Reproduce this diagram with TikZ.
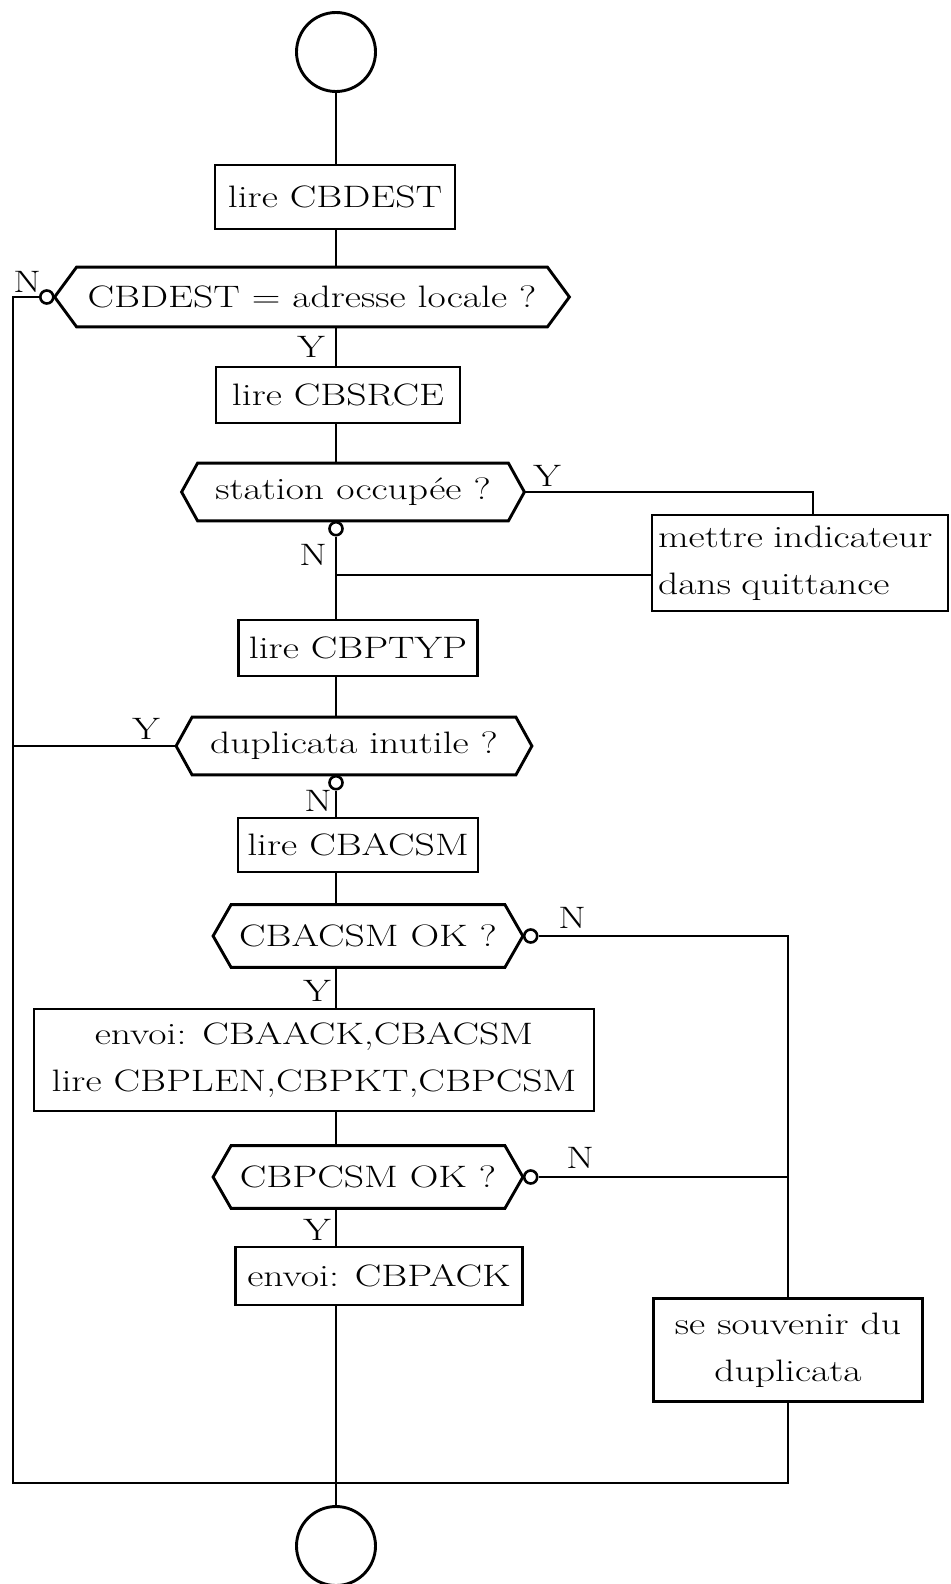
\documentclass[tikz,border=0pt]{standalone}
\usepackage{fontspec}
\setmainfont{Latin Modern Roman}[FakeStretch=1.28]
\usetikzlibrary{calc}

% hexagonal decision frame around a rectangular text node
\newcommand\hexframe[2]{%
  \draw[flow] (#1.north west) -- (#1.north east) -- ([xshift=#2]#1.east)
    -- (#1.south east) -- (#1.south west) -- ([xshift=-#2]#1.west) -- cycle;}

\tikzset{
  flow/.style={line width=1.45pt, line join=miter},
  txt/.style={font=\fontsize{15.5}{23.5}\selectfont, inner sep=0pt},
  stepbox/.style={flow, draw, rectangle, txt, align=center},
  decision/.style={rectangle, txt},
  terminal/.style={flow, draw, circle, minimum size=39.5pt, inner sep=0pt},
  ncirc/.style={draw, circle, fill=white, minimum size=6.5pt, inner sep=0pt, line width=1.3pt},
  lbl/.style={txt}
}

\begin{document}
\begin{tikzpicture}[x=0.5pt, y=-0.5pt]
\useasboundingbox (0,0) rectangle (950,1584);

% main column
\node[terminal] (start) at (336,52) {};
\node[stepbox, minimum width=120pt, minimum height=32pt] (b1) at (335,197) {lire CBDEST};

\node[decision, minimum width=235pt, minimum height=29.5pt] (d1) at (312,297) {CBDEST = adresse locale ?};
\hexframe{d1}{11pt}
\node[ncirc, anchor=east] (d1n) at ([xshift=-11pt]d1.west) {};
\node[lbl] (ln1) at (27,282) {N};
\node[lbl] (ly1) at (311,347) {Y};

\node[stepbox, minimum width=122pt, minimum height=28pt] (b2) at (338,395) {lire CBSRCE};

\node[decision, minimum width=155pt, minimum height=28.5pt] (d2) at (353,492) {station occupée ?};
\hexframe{d2}{8pt}
\coordinate (d2e) at ([xshift=8pt]d2.east);
\node[ncirc, anchor=north] (d2n) at (d2.south -| start) {};
\node[lbl] (ly2) at (547,476) {Y};
\node[lbl] (ln2) at (313,555) {N};

\node[stepbox, align=left, minimum width=148pt, minimum height=48pt, text width=142pt] (b3) at (800,563) {mettre indicateur\\dans quittance};

\node[stepbox, minimum width=119.5pt, minimum height=28pt] (b4) at (358,648) {lire CBPTYP};

\node[decision, minimum width=161.5pt, minimum height=28.5pt] (d3) at (354,746) {duplicata inutile ?};
\hexframe{d3}{8pt}
\coordinate (d3w) at ([xshift=-8pt]d3.west);
\node[ncirc, anchor=north] (d3n) at (d3.south -| start) {};
\node[lbl] (ly3) at (146,729) {Y};
\node[lbl] (ln3) at (318,801) {N};

\node[stepbox, minimum width=120pt, minimum height=27pt] (b5) at (358,845) {lire CBACSM};

\node[decision, minimum width=136.5pt, minimum height=31pt] (d4) at (368,936) {CBACSM OK ?};
\hexframe{d4}{9pt}
\node[ncirc, anchor=west] (d4n) at ([xshift=9pt]d4.east) {};
\node[lbl] (ln4) at (572,918) {N};
\node[lbl] (ly4) at (317,991) {Y};

\node[stepbox, minimum width=280pt, minimum height=51pt] (b6) at (314,1060) {envoi: CBAACK,CBACSM\\lire CBPLEN,CBPKT,CBPCSM};

\node[decision, minimum width=136.5pt, minimum height=31pt] (d5) at (368,1177) {CBPCSM OK ?};
\hexframe{d5}{9pt}
\node[ncirc, anchor=west] (d5n) at ([xshift=9pt]d5.east) {};
\node[lbl] (ln5) at (580,1158) {N};
\node[lbl] (ly5) at (317,1230) {Y};

\node[stepbox, minimum width=143.5pt, minimum height=29pt] (b7) at (379,1276) {envoi: CBPACK};

\node[stepbox, minimum width=134.5pt, minimum height=51.5pt] (b8) at (788,1350) {se souvenir du\\duplicata};

\node[terminal] (end) at (336,1546) {};

% rails of the loop-back
\coordinate (lbot) at (13,1483);
\coordinate (rbot) at (788,1483);
\coordinate (yrail) at (813,492);

% connectors along the main column
\draw[flow] (start.south) -- (start.south |- b1.north);
\draw[flow] (start |- b1.south) -- (start |- d1.north);
\draw[flow] (start |- d1.south) -- (start |- b2.north);
\draw[flow] (start |- b2.south) -- (start |- d2.north);
\draw[flow] (d2n.south) -- (d2n.south |- b4.north);
\draw[flow] (start |- b4.south) -- (start |- d3.north);
\draw[flow] (d3n.south) -- (d3n.south |- b5.north);
\draw[flow] (start |- b5.south) -- (start |- d4.north);
\draw[flow] (start |- d4.south) -- (start |- b6.north);
\draw[flow] (start |- b6.south) -- (start |- d5.north);
\draw[flow] (start |- d5.south) -- (start |- b7.north);
\draw[flow] (start |- b7.south) -- (end.north);

% station busy branch
\draw[flow] (d2e) -- (yrail) -- (yrail |- b3.north);
\draw[flow] ([yshift=-6pt]b3.west) -- ([yshift=-6pt]b3.west -| start);

% loop-back to the bottom
\draw[flow] (d1n.west) -| (lbot) -- (rbot) -- (b8.south);
\draw[flow] (d3w) -- (d3w -| lbot);
\draw[flow] (d4n.east) -| (b8.north);
\draw[flow] (d5n.east) -- (d5n.east -| b8.north);
\end{tikzpicture}
\end{document}
